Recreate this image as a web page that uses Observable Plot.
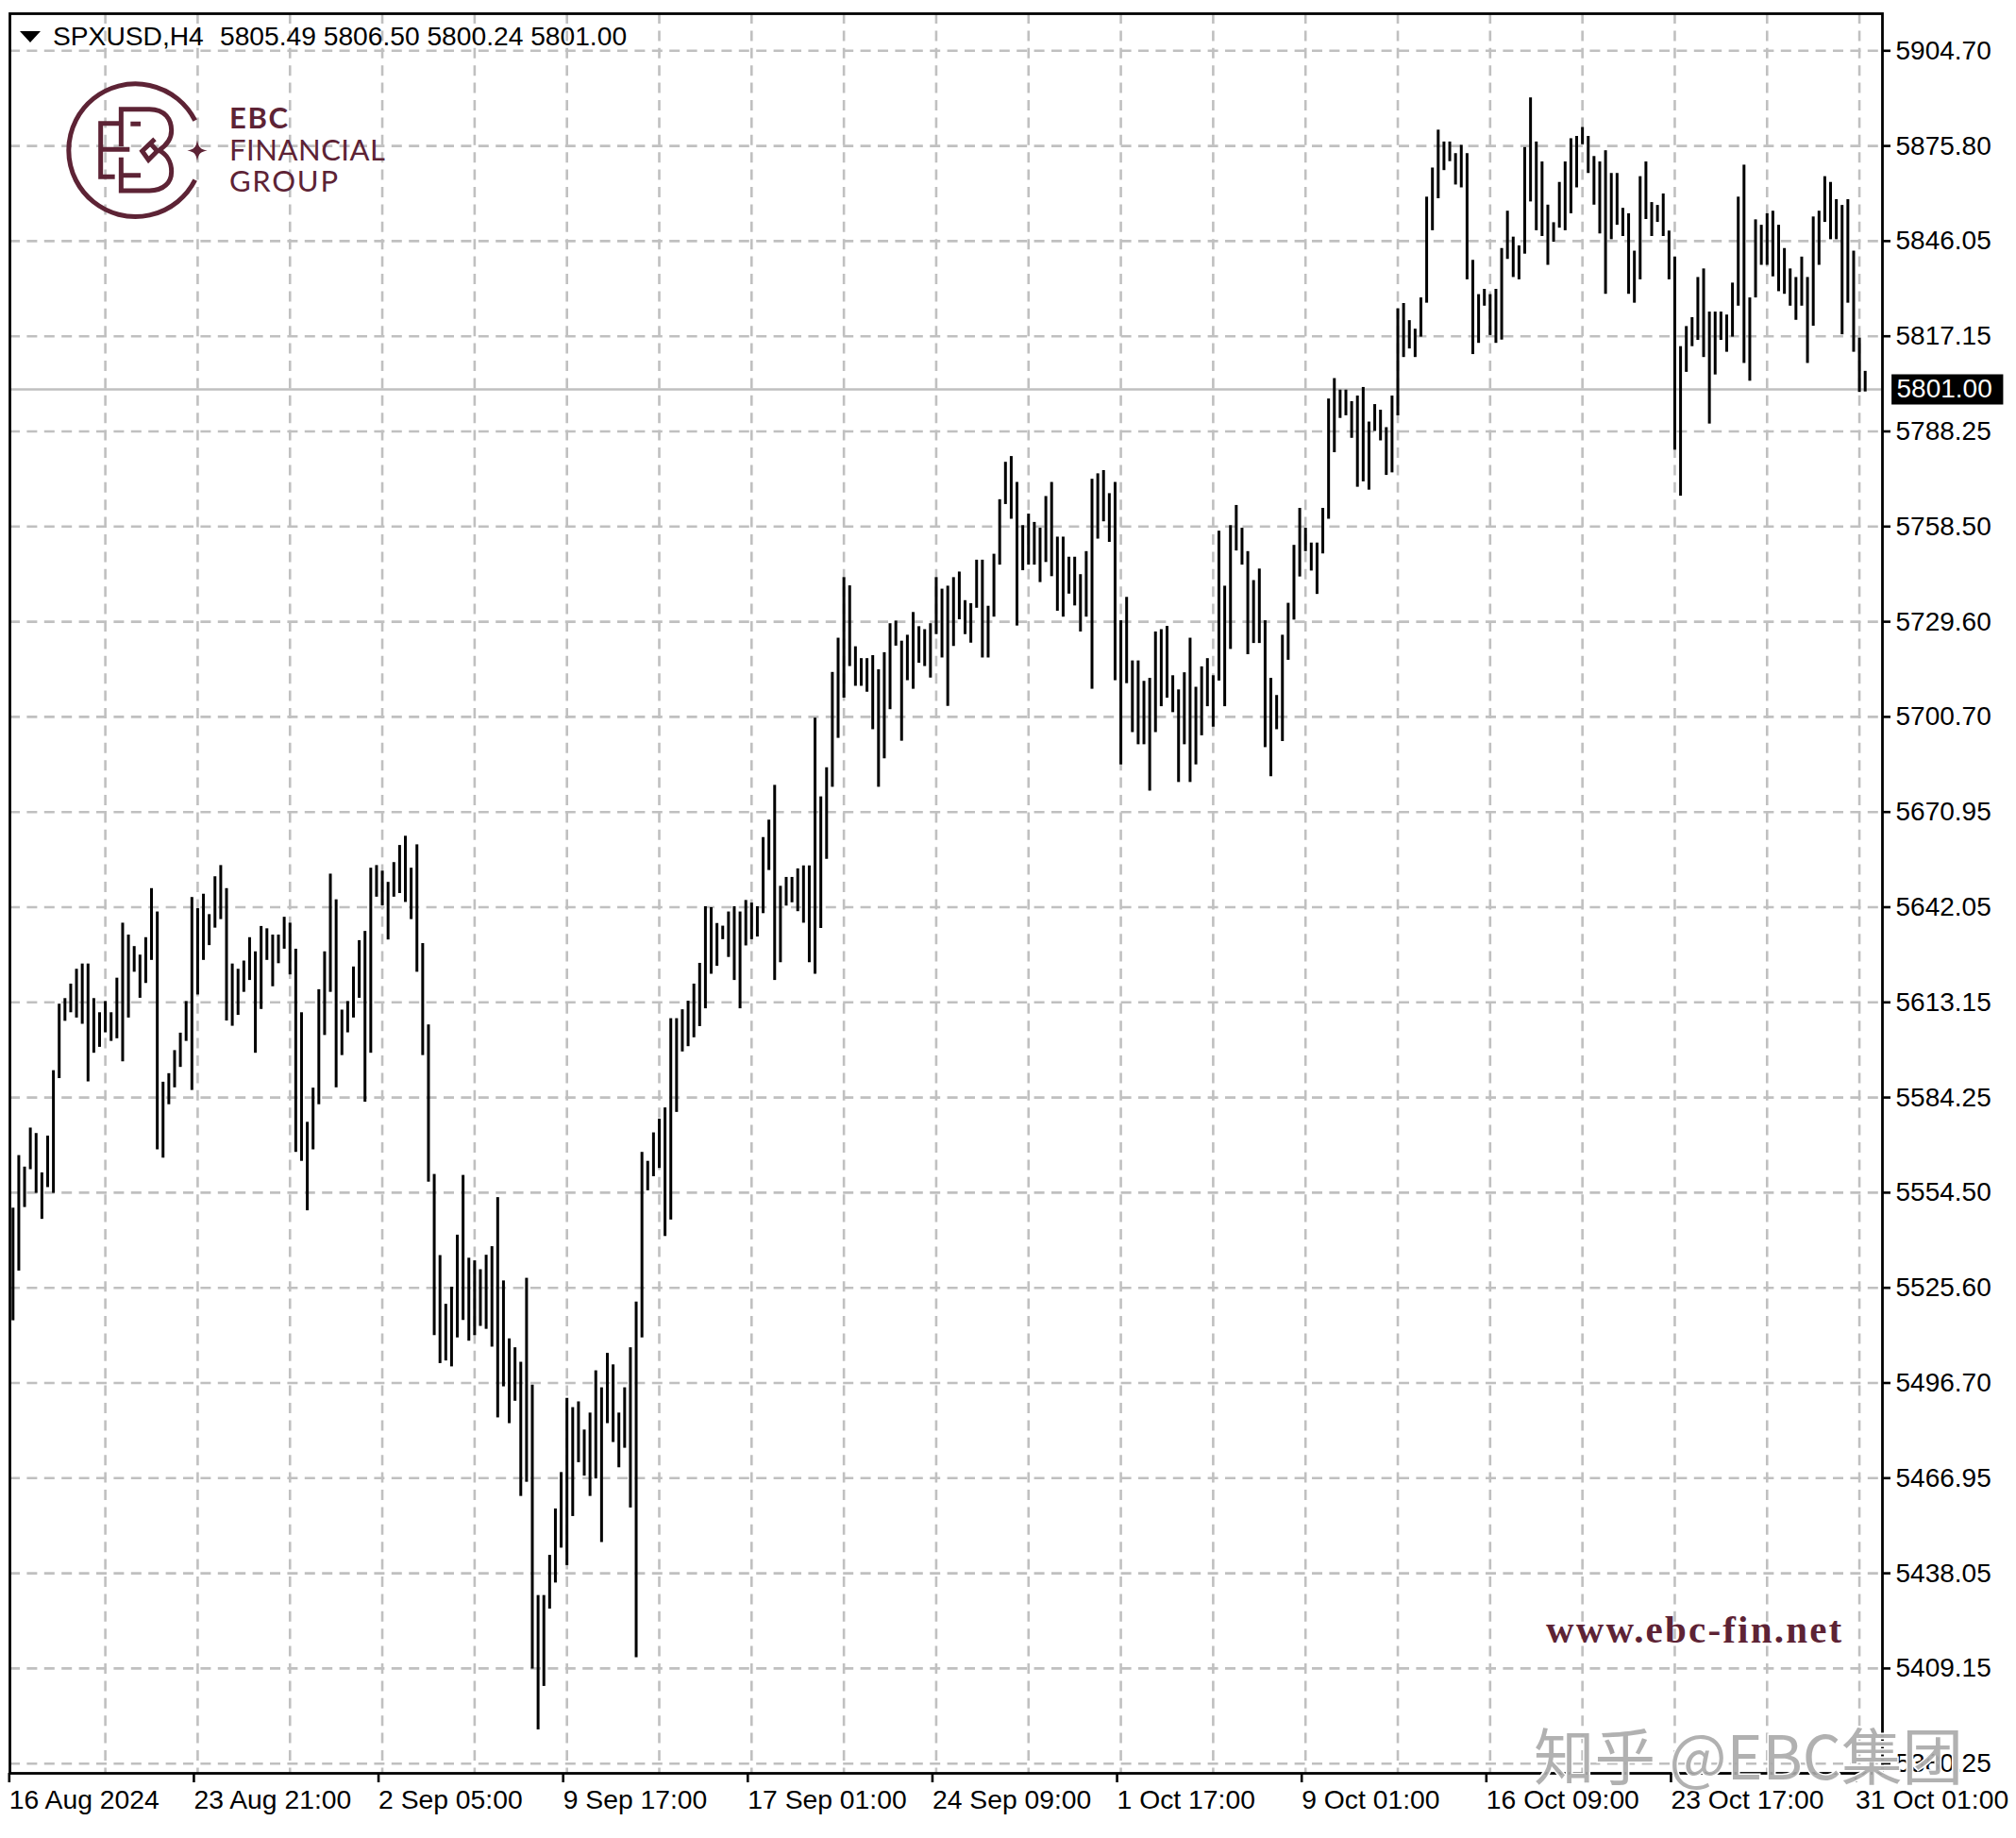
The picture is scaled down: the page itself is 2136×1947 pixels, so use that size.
<!DOCTYPE html>
<html>
<head>
<meta charset="utf-8">
<script src="https://cdn.jsdelivr.net/npm/d3@7"></script>
<script src="https://cdn.jsdelivr.net/npm/@observablehq/plot@0.6"></script>
<style>
html,body{margin:0;padding:0;background:#fff;overflow:hidden}
svg{display:block}
</style>
</head>
<body>
<div id="chart"></div>
<script>
const symbolText = "SPXUSD,H4";
const ohlcText = "5805.49 5806.50 5800.24 5801.00";
const lastPrice = 5801.00;
const priceTicks = [5904.70,5875.80,5846.05,5817.15,5788.25,5758.50,5729.60,5700.70,5670.95,5642.05,5613.15,5584.25,5554.50,5525.60,5496.70,5466.95,5438.05,5409.15,5380.25];
const dateLabels = ["16 Aug 2024","23 Aug 21:00","2 Sep 05:00","9 Sep 17:00","17 Sep 01:00","24 Sep 09:00","1 Oct 17:00","9 Oct 01:00","16 Oct 09:00","23 Oct 17:00","31 Oct 01:00"];
const barsPerLabel = 32;
const barsPerGrid = 16;
const highs = [
5549.8,5566.1,5562.5,5574.7,5573.0,5560.7,5572.2,5592.4,5612.6,5614.3,
5618.7,5623.2,5624.8,5624.8,5614.3,5610.0,5613.4,5610.0,5620.5,5637.2,
5633.6,5630.1,5627.5,5632.8,5647.7,5640.6,5588.9,5591.5,5598.5,5603.8,
5613.4,5645.0,5641.6,5646.0,5639.8,5651.3,5654.7,5647.7,5624.8,5623.2,
5625.7,5632.8,5628.5,5636.2,5635.5,5633.6,5633.6,5639.0,5637.2,5629.3,
5610.0,5576.5,5587.1,5617.0,5628.5,5652.1,5644.3,5610.8,5613.4,5623.9,
5631.9,5634.7,5653.9,5654.7,5653.0,5649.6,5655.6,5660.8,5663.6,5653.9,
5661.0,5631.0,5606.3,5560.2,5535.4,5520.6,5525.8,5541.6,5559.9,5534.6,
5533.8,5531.1,5535.5,5538.1,5553.0,5527.7,5510.1,5507.4,5503.0,5528.5,
5496.0,5431.3,5431.3,5443.5,5457.6,5468.7,5491.9,5489.0,5490.8,5482.0,
5487.3,5500.4,5495.2,5505.7,5502.2,5487.3,5495.2,5507.4,5521.3,5567.1,
5564.3,5573.2,5577.5,5581.0,5608.2,5608.2,5610.9,5613.5,5618.7,5625.0,
5642.2,5641.9,5637.1,5636.3,5640.6,5642.2,5640.6,5644.1,5643.3,5642.2,
5663.2,5668.5,5679.3,5648.4,5651.1,5651.1,5653.7,5654.6,5654.6,5700.3,
5675.7,5684.8,5714.2,5724.6,5743.0,5740.5,5722.0,5718.4,5718.4,5719.3,
5715.0,5720.2,5729.0,5729.8,5723.7,5725.5,5732.4,5728.1,5727.2,5729.0,
5743.0,5739.5,5740.4,5743.0,5744.7,5736.0,5735.1,5748.3,5748.3,5734.3,
5750.1,5766.9,5778.6,5780.4,5772.3,5758.8,5762.4,5759.8,5758.0,5767.9,
5772.3,5755.3,5755.3,5749.2,5749.2,5743.9,5750.9,5773.3,5775.0,5776.0,
5768.8,5772.3,5729.9,5737.0,5717.7,5717.7,5711.5,5712.4,5726.5,5727.2,
5728.2,5713.2,5708.9,5714.1,5724.6,5709.7,5715.9,5718.4,5713.2,5757.1,
5740.4,5758.8,5765.1,5758.0,5750.9,5742.1,5745.6,5729.9,5712.4,5707.2,
5725.5,5735.2,5752.8,5764.2,5758.0,5753.5,5753.5,5764.2,5798.1,5804.3,
5800.8,5800.8,5797.3,5799.0,5801.6,5791.1,5796.4,5794.7,5789.4,5799.0,
5825.5,5827.1,5821.9,5819.3,5828.8,5859.8,5868.9,5880.6,5877.0,5877.0,
5873.4,5876.0,5873.4,5840.2,5829.8,5831.4,5829.8,5831.4,5843.8,5855.4,
5847.3,5844.6,5875.3,5890.4,5877.0,5870.8,5857.3,5851.8,5864.4,5870.8,
5878.0,5878.7,5881.4,5878.7,5872.5,5870.8,5874.3,5867.2,5867.2,5856.3,
5854.6,5843.0,5866.2,5870.8,5858.1,5857.2,5860.8,5849.2,5841.2,5814.0,
5820.1,5822.8,5835.0,5837.6,5824.5,5824.5,5824.5,5823.6,5833.3,5859.8,
5869.8,5828.8,5852.7,5851.0,5854.6,5855.4,5851.0,5843.8,5837.6,5835.0,
5841.2,5835.0,5853.6,5855.4,5866.2,5864.4,5859.0,5857.2,5859.0,5843.0,
5816.6,5806.5];
const lows = [
5515.6,5530.7,5550.0,5561.7,5554.3,5546.4,5556.1,5554.3,5590.0,5607.4,
5610.0,5608.4,5606.5,5589.0,5597.7,5599.5,5603.9,5601.3,5602.1,5595.1,
5608.4,5622.3,5614.4,5618.9,5625.9,5567.9,5565.3,5582.0,5587.2,5593.4,
5601.3,5586.4,5615.4,5625.9,5630.4,5635.7,5638.3,5607.5,5605.9,5609.2,
5616.2,5619.8,5597.7,5611.0,5625.9,5617.9,5624.9,5629.3,5621.5,5567.1,
5564.3,5549.0,5567.9,5582.0,5603.1,5616.2,5587.2,5597.0,5603.9,5608.4,
5614.4,5582.8,5597.7,5645.1,5642.5,5632.1,5645.1,5646.2,5643.5,5638.3,
5622.3,5597.0,5557.8,5511.1,5502.6,5503.4,5501.6,5510.4,5515.7,5509.4,
5511.1,5513.9,5513.0,5507.6,5485.8,5495.5,5484.0,5491.0,5461.4,5465.7,
5409.0,5390.5,5403.7,5427.2,5435.1,5445.7,5440.4,5455.3,5471.8,5467.6,
5461.4,5466.7,5447.4,5484.0,5478.1,5470.2,5476.3,5457.9,5412.4,5510.4,
5555.1,5559.5,5562.1,5541.2,5546.2,5579.6,5598.1,5599.7,5602.4,5605.8,
5611.2,5621.7,5624.1,5632.2,5626.8,5619.8,5611.2,5630.3,5632.2,5633.0,
5640.1,5653.2,5619.8,5625.2,5642.4,5643.4,5640.7,5637.2,5625.2,5621.7,
5635.6,5656.6,5678.7,5694.0,5706.4,5716.0,5710.0,5710.0,5708.2,5696.7,
5678.7,5687.6,5702.9,5722.2,5693.1,5711.7,5709.1,5717.0,5716.0,5712.5,
5725.7,5718.6,5703.9,5722.1,5730.2,5725.7,5723.1,5733.7,5718.6,5718.6,
5731.0,5746.8,5765.4,5760.8,5728.3,5745.1,5746.8,5746.8,5741.5,5747.6,
5743.3,5732.8,5731.0,5738.0,5734.4,5726.5,5731.0,5709.1,5754.7,5760.0,
5753.7,5711.7,5685.7,5710.8,5695.8,5692.0,5692.0,5677.5,5695.8,5703.8,
5706.4,5702.0,5680.2,5692.0,5680.2,5685.7,5694.8,5703.8,5697.5,5711.6,
5703.8,5721.2,5751.1,5746.8,5719.6,5723.0,5723.0,5691.1,5682.0,5696.7,
5693.0,5717.9,5730.1,5743.2,5750.9,5745.0,5737.9,5750.2,5760.8,5781.6,
5792.2,5793.0,5786.1,5770.8,5772.5,5769.9,5788.25,5785.3,5774.5,5775.3,
5793.0,5810.7,5813.3,5810.7,5816.9,5827.2,5849.3,5859.3,5868.1,5870.9,
5863.6,5862.7,5834.3,5811.6,5815.0,5826.3,5817.4,5815.0,5816.0,5840.5,
5835.0,5834.3,5842.1,5858.3,5849.3,5847.5,5838.7,5845.7,5850.1,5849.3,
5854.6,5862.7,5876.2,5867.2,5857.3,5848.3,5829.9,5846.5,5851.0,5847.5,
5829.9,5827.2,5834.3,5852.8,5847.5,5851.9,5847.5,5834.3,5782.4,5768.0,
5806.2,5814.0,5815.9,5810.7,5790.5,5805.4,5815.9,5812.3,5816.9,5826.3,
5808.9,5803.5,5828.8,5838.7,5838.7,5835.2,5830.7,5829.9,5826.3,5822.0,
5826.3,5808.9,5820.2,5838.7,5851.9,5846.5,5846.5,5817.6,5827.2,5812.3,
5800.1,5800.24];

const bars = highs.map((h, i) => ({i, high: h, low: lows[i]}));
const labelBars = dateLabels.map((_, k) => k * barsPerLabel);
const gridBars = d3.range(barsPerGrid, bars.length, barsPerGrid);

const sans = "'Liberation Sans', Arial, sans-serif";
const maroon = "#5d2335";
const gridStyle = {stroke: "#c0c0c0", strokeOpacity: 1, strokeWidth: 2.6, strokeDasharray: "11 7.4"};

function logo() {
  const g = d3.create("svg:g").attr("text-anchor", "start");
  const art = g.append("g").attr("fill", "none").attr("stroke", maroon).attr("stroke-width", 15).attr("transform", "scale(0.33333)");
  art.append("path").attr("d", "M620,383 A212,211 0 1 0 620,572");
  art.append("path").attr("d", "M385,465 V347 H475 C525,347 545,380 545,415 C545,445 525,465 505,478 C530,490 545,515 545,545 C545,580 520,606 475,606 H385 V500");
  art.append("path").attr("d", "M385,392 H320 V562 H365 M320,475 H412 M415,394 H447 M390,557 H447");
  art.append("path").attr("d", "M492,442 L452,480 L472,508 L500,480 L482,460");
  g.append("path").attr("fill", maroon).attr("transform", "translate(209,159.5) scale(0.33333)")
    .attr("d", "M0,-33 C4,-10 10,-4 32,0 C10,4 4,10 0,33 C-4,10 -10,4 -32,0 C-10,-4 -4,-10 0,-33 Z");
  const t = g.append("g").attr("fill", maroon).attr("font-family", "Lato, 'Open Sans', sans-serif");
  t.append("text").attr("x", 243).attr("y", 136).attr("font-size", 31).attr("font-weight", 700).attr("textLength", 62).text("EBC");
  t.append("text").attr("x", 243).attr("y", 170).attr("font-size", 31).attr("textLength", 165).text("FINANCIAL");
  t.append("text").attr("x", 243).attr("y", 203).attr("font-size", 31).attr("textLength", 115).text("GROUP");
  return g.node();
}
function header() {
  const g = d3.create("svg:g").attr("text-anchor", "start").attr("font-family", sans).attr("font-size", 28.2).attr("fill", "#000");
  g.append("path").attr("d", "M21,33 H43 L32,45 Z");
  g.append("text").attr("x", 56).attr("y", 48).text(symbolText);
  g.append("text").attr("x", 233).attr("y", 48).text(ohlcText);
  return g.node();
}
function site() {
  return d3.create("svg:text").attr("text-anchor", "start").attr("x", 1638).attr("y", 1740).attr("font-family", "'Liberation Serif', serif")
    .attr("font-weight", 700).attr("font-size", 41).attr("letter-spacing", 2.2).attr("fill", maroon).text("www.ebc-fin.net").node();
}
function watermark() {
  return d3.create("svg:text").attr("text-anchor", "start").attr("x", 1625).attr("y", 1885).attr("font-family", "'Noto Sans CJK SC', sans-serif")
    .attr("font-size", 64.5).attr("fill", "#a8a8a8").attr("fill-opacity", 0.9).attr("stroke", "#fff").attr("stroke-width", 3)
    .attr("paint-order", "stroke").text("知乎 @EBC集团").node();
}

const chart = Plot.plot({
  width: 2136,
  height: 1947,
  marginLeft: 10,
  marginTop: 14,
  marginRight: 142,
  marginBottom: 69,
  style: {background: "#fff", overflow: "visible"},
  x: {type: "linear", domain: [0, 321], range: [13.3, 1975.7], axis: null},
  y: {type: "linear", domain: priceTicks, range: priceTicks.map((_, k) => 53.3 + 100.8 * k), axis: null},
  marks: [
    Plot.gridX(gridBars, gridStyle),
    Plot.gridY(priceTicks, gridStyle),
    Plot.ruleY([lastPrice], {stroke: "#c0c0c0", strokeWidth: 2.6}),
    Plot.ruleX(bars, {x: "i", y1: "low", y2: "high", stroke: "#000", strokeWidth: 3}),
    Plot.frame({stroke: "#000", strokeWidth: 2.8}),
    Plot.axisY(priceTicks, {anchor: "right", tickSize: 8, tickPadding: 6, tickFormat: d => d.toFixed(2), label: null, fontSize: 28, fontFamily: sans, stroke: "#000", strokeWidth: 2.6, fill: "#000"}),
    Plot.axisX(labelBars, {anchor: "bottom", tickSize: 10, tickPadding: 7, tickFormat: i => dateLabels[i / barsPerLabel], label: null, fontSize: 28.3, fontFamily: sans, textAnchor: "start", dx: -4, stroke: "#000", strokeWidth: 2.6, fill: "#000"}),
    Plot.ruleY([lastPrice], {x1: 325.65, x2: 345, stroke: "#000", strokeWidth: 32}),
    Plot.text([lastPrice], {y: d => d, text: d => d.toFixed(2), frameAnchor: "right", textAnchor: "start", dx: 15, fill: "#fff", fontSize: 28, fontFamily: sans}),
    header,
    logo,
    site,
    watermark
  ]
});
document.getElementById("chart").append(chart);
</script>
</body>
</html>
